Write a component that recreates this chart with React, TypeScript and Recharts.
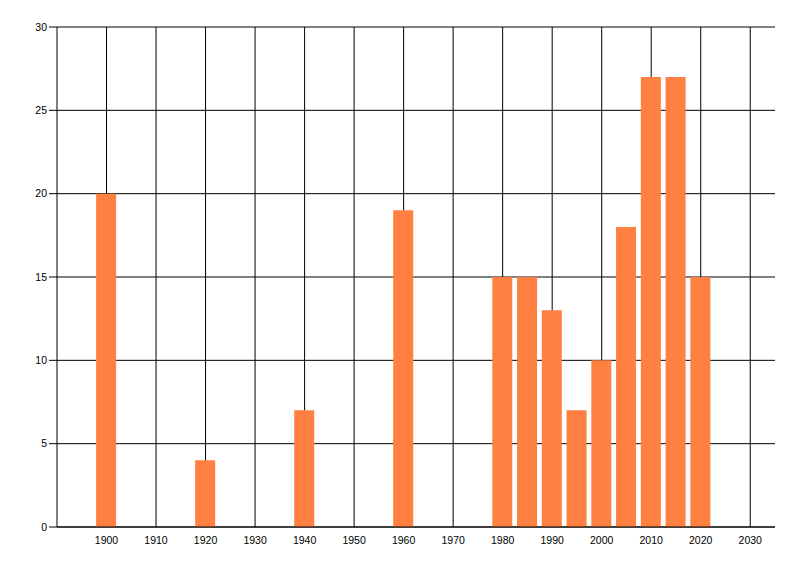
import React from 'react';
import { BarChart, Bar, XAxis, YAxis, CartesianGrid } from 'recharts';

const years = [1900, 1920, 1940, 1960, 1980, 1985, 1990, 1995, 2000, 2005, 2010, 2015, 2020];
const values = [20, 4, 7, 19, 15, 15, 13, 7, 10, 18, 27, 27, 15];
const xTicks = [1900, 1910, 1920, 1930, 1940, 1950, 1960, 1970, 1980, 1990, 2000, 2010, 2020, 2030];
const yTicks = [0, 5, 10, 15, 20, 25, 30];
const xDomain: [number, number] = [1890, 2035];

const data = years.map((year, i) => ({ year, value: values[i] }));

const tickStyle = { fill: '#000', fontSize: 10.5, fontFamily: '"Liberation Sans", Arial, sans-serif' };

// vertical grid only at the labelled years (no line on the right edge)
const verticalLines = ({ offset }: any) =>
    xTicks.map(t => offset.left + ((t - xDomain[0]) / (xDomain[1] - xDomain[0])) * offset.width);

const App: React.FC = () => {
    return (
        <div style={{ position: 'absolute', left: 0, top: 0, width: 800, height: 576, background: '#fff' }}>
            <BarChart width={800} height={576} data={data} margin={{ top: 27, right: 25, left: 0, bottom: 19 }}>
                <CartesianGrid stroke="#000" strokeWidth={1} verticalCoordinatesGenerator={verticalLines} />
                <XAxis
                    dataKey="year"
                    type="number"
                    domain={xDomain}
                    allowDataOverflow
                    ticks={xTicks}
                    interval={0}
                    height={30}
                    tickLine={false}
                    tickSize={0}
                    tickMargin={10}
                    axisLine={{ stroke: '#000' }}
                    tick={tickStyle}
                />
                <YAxis
                    domain={[0, 30]}
                    ticks={yTicks}
                    width={57}
                    tickSize={8}
                    tickMargin={2}
                    tickLine={{ stroke: '#000' }}
                    axisLine={{ stroke: '#000' }}
                    tick={tickStyle}
                />
                <Bar dataKey="value" fill="#FF8040" barSize={20} isAnimationActive={false} />
            </BarChart>
        </div>
    );
};

export default App;
